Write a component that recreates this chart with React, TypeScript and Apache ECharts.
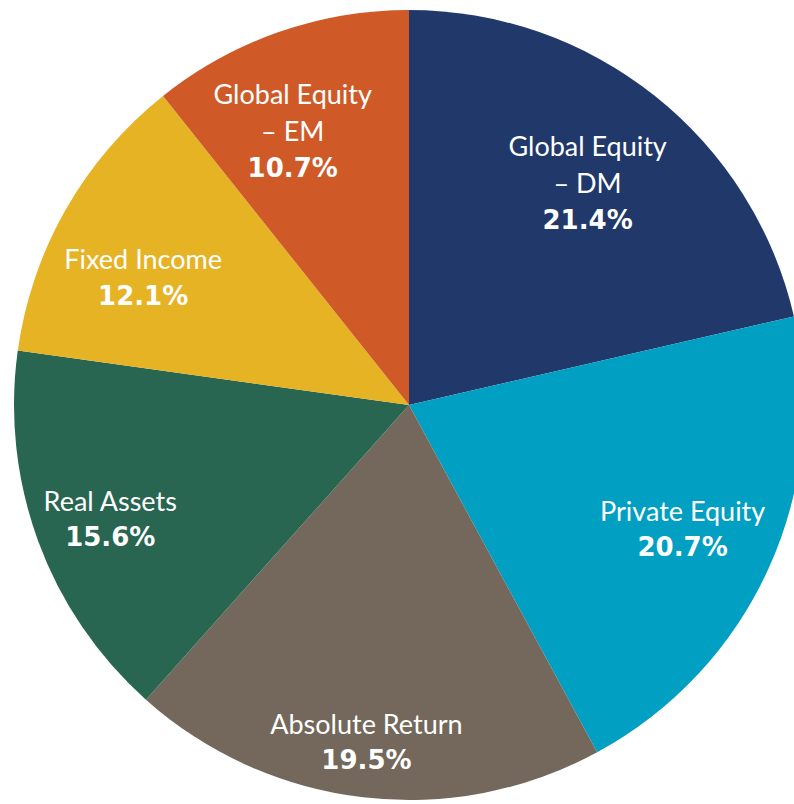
import React, { useEffect, useRef } from "react";
import * as echarts from "echarts";

const categories = [
  "Global Equity – DM",
  "Private Equity",
  "Absolute Return",
  "Real Assets",
  "Fixed Income",
  "Global Equity – EM",
];
const labelLines = [
  ["Global Equity", "– DM"],
  ["Private Equity"],
  ["Absolute Return"],
  ["Real Assets"],
  ["Fixed Income"],
  ["Global Equity", "– EM"],
];
const values = [21.4, 20.7, 19.5, 15.6, 12.1, 10.7];
const colors = ["#20386a", "#019fc2", "#73685b", "#286651", "#e6b324", "#cf5a28"];
const labelOffsets = [
  [-7, 11],
  [2, 1],
  [-8, 41],
  [-19, 11],
  [-7, 20],
  [-18, 7],
];

export default function App() {
  const ref = useRef<HTMLDivElement>(null);
  useEffect(() => {
    if (!ref.current) return;
    const chart = echarts.init(ref.current, null, { renderer: "svg" });
    const font = "Lato, 'Noto Sans', sans-serif";
    const boldFont = "'DejaVu Sans', sans-serif";
    chart.setOption({
      animation: false,
      backgroundColor: "#ffffff",
      series: [
        {
          type: "pie",
          center: [409, 405],
          radius: [0, 395],
          startAngle: 90,
          clockwise: true,
          silent: true,
          label: { show: false },
          labelLine: { show: false },
          data: categories.map((c, i) => ({
            name: c,
            value: values[i],
            itemStyle: { color: colors[i] },
          })),
        },
        {
          type: "pie",
          center: [409, 405],
          radius: [195, 395],
          startAngle: 90,
          clockwise: true,
          silent: true,
          itemStyle: { color: "rgba(0,0,0,0)" },
          labelLine: { show: false },
          label: {
            show: true,
            position: "inside",
            color: "#ffffff",
            fontFamily: font,
            rich: {
              n: { fontSize: 27, fontWeight: "normal", color: "#ffffff", fontFamily: font, lineHeight: 37 },
              p: { fontSize: 26, fontWeight: "bold", color: "#ffffff", fontFamily: boldFont, lineHeight: 37 },
            },
          },
          data: categories.map((c, i) => ({
            name: c,
            value: values[i],
            label: {
              offset: labelOffsets[i],
              formatter: () =>
                labelLines[i].map((l) => `{n|${l}}`).join("\n") + `\n{p|${values[i].toFixed(1)}%}`,
            },
          })),
        },
      ],
    });
    return () => chart.dispose();
  }, []);
  return (
    <div
      ref={ref}
      style={{ position: "absolute", left: 0, top: 0, width: 794, height: 804 }}
    />
  );
}
